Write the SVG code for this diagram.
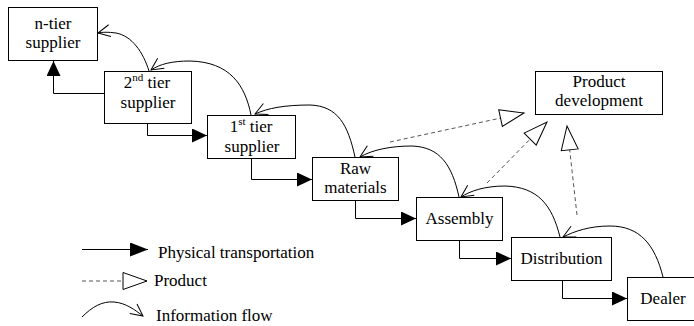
<svg xmlns="http://www.w3.org/2000/svg" width="694" height="326" viewBox="0 0 694 326">
<style>
.box{fill:#fff;stroke:#000;stroke-width:1}
.lbl{font-family:"Liberation Serif","Times New Roman",serif;font-size:17px;fill:#000}
.t{text-anchor:middle}
.sup{font-size:11px}
.phys{fill:none;stroke:#000;stroke-width:1}
.info{fill:none;stroke:#000;stroke-width:1}
.prod{fill:none;stroke:#555;stroke-width:1;stroke-dasharray:4 3}
</style>
<defs>
<marker id="tri" viewBox="0 0 15 14" refX="15" refY="7" markerWidth="15" markerHeight="14" orient="auto" markerUnits="userSpaceOnUse"><path d="M0,0 L15,7 L0,14 Z" fill="#000"/></marker>
<marker id="triL" viewBox="0 0 18 14" refX="18" refY="7" markerWidth="18" markerHeight="14" orient="auto" markerUnits="userSpaceOnUse"><path d="M0,0 L18,7 L0,14 Z" fill="#000"/></marker>
<marker id="vee" viewBox="-1 -1 14 14" refX="12" refY="6" markerWidth="14" markerHeight="14" orient="auto" markerUnits="userSpaceOnUse" overflow="visible"><path d="M0,0 L12,6 L0,12" fill="none" stroke="#000" stroke-width="1"/></marker>
<marker id="otri" viewBox="-1 -1 27 19" refX="24" refY="8.5" markerWidth="27" markerHeight="19" orient="auto" markerUnits="userSpaceOnUse" overflow="visible"><path d="M0,0 L24,8.5 L0,17 Z" fill="#fff" stroke="#000" stroke-width="1"/></marker>
</defs>

<g id="connectors">
<path class="phys" d="M104,93.5 H53.5 V61" marker-end="url(#tri)"/>
<path class="phys" d="M147.5,123 V135.5 H207" marker-end="url(#tri)"/>
<path class="phys" d="M251.5,158 V179.5 H312" marker-end="url(#tri)"/>
<path class="phys" d="M355.5,200 V218.5 H416" marker-end="url(#tri)"/>
<path class="phys" d="M459.5,240 V258.5 H511" marker-end="url(#tri)"/>
<path class="phys" d="M562.5,280 V298.5 H627" marker-end="url(#tri)"/>

<path class="info" d="M663,277 C655,245 640,226 610,226 C590,226 575,231 563,237" marker-end="url(#vee)"/>
<path class="info" d="M560,237 C552,205 538,187 505,186 C485,186 470,191 461,197" marker-end="url(#vee)"/>
<path class="info" d="M459,197 C452,165 440,147 412,146 C390,146 372,150 360,157" marker-end="url(#vee)"/>
<path class="info" d="M355,157 C348,125 338,106 310,105 C285,105 268,108 255,114" marker-end="url(#vee)"/>
<path class="info" d="M251,115 C245,85 230,62 190,61 C172,61 160,64 151,70" marker-end="url(#vee)"/>
<path class="info" d="M149,71 C143,52 132,36 116,33 C108,32 103,32 98,33" marker-end="url(#vee)"/>

<path class="prod" d="M390,142 L524,113" marker-end="url(#otri)"/>
<path class="prod" d="M487,183 L547,122" marker-end="url(#otri)"/>
<path class="prod" d="M577,215 L567,126" marker-end="url(#otri)"/>
</g>

<g id="n-tier">
<rect class="box" x="8.5" y="7.5" width="89" height="53"/>
<text class="lbl t" x="53" y="29">n-tier</text>
<text class="lbl t" x="53" y="48">supplier</text>
</g>
<g id="tier2">
<rect class="box" x="104.5" y="71.5" width="87" height="52"/>
<text class="lbl t" x="147" y="88">2<tspan class="sup" dy="-7">nd</tspan><tspan dy="7"> tier</tspan></text>
<text class="lbl t" x="148" y="108">supplier</text>
</g>
<g id="tier1">
<rect class="box" x="207.5" y="115.5" width="88" height="43"/>
<text class="lbl t" x="251" y="132">1<tspan class="sup" dy="-7">st</tspan><tspan dy="7"> tier</tspan></text>
<text class="lbl t" x="252" y="152">supplier</text>
</g>
<g id="raw">
<rect class="box" x="312.5" y="157.5" width="86" height="43"/>
<text class="lbl t" x="355.5" y="174">Raw</text>
<text class="lbl t" x="355.5" y="193">materials</text>
</g>
<g id="assembly">
<rect class="box" x="416.5" y="197.5" width="86" height="43"/>
<text class="lbl t" x="459.5" y="224">Assembly</text>
</g>
<g id="distribution">
<rect class="box" x="511.5" y="237.5" width="100" height="43"/>
<text class="lbl t" x="561.5" y="264">Distribution</text>
</g>
<g id="dealer">
<rect class="box" x="627.5" y="277.5" width="72" height="43"/>
<text class="lbl t" x="663" y="304">Dealer</text>
</g>
<g id="product-development">
<rect class="box" x="535.5" y="71.5" width="127" height="43"/>
<text class="lbl t" x="599" y="87">Product</text>
<text class="lbl t" x="599" y="106">development</text>
</g>

<g id="legend">
<path class="phys" d="M82,249.5 H148" marker-end="url(#triL)"/>
<text class="lbl" x="158" y="258">Physical transportation</text>
<path class="prod" d="M82,281 H147" marker-end="url(#otri)"/>
<text class="lbl" x="154" y="286">Product</text>
<path class="info" d="M82,317 C92,307 102,301 114,302 C126,303 135,310 143,316" marker-end="url(#vee)"/>
<text class="lbl" x="156" y="321">Information flow</text>
</g>
</svg>
